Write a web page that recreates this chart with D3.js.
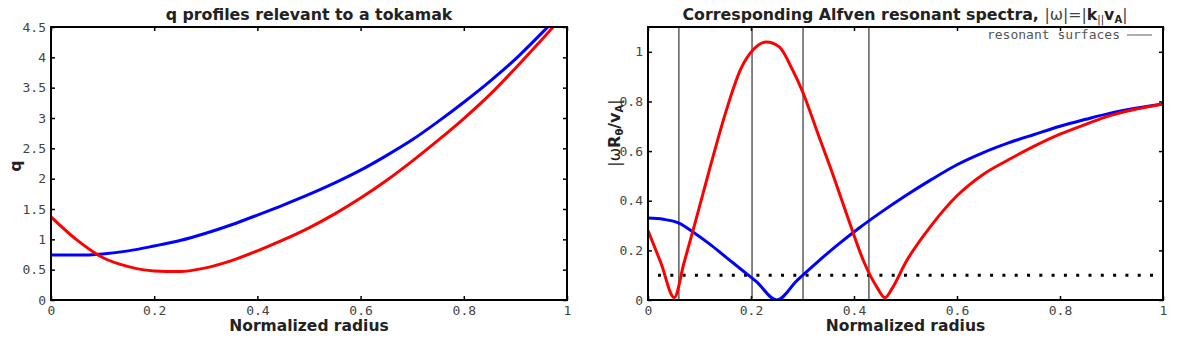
<!DOCTYPE html>
<html>
<head>
<meta charset="utf-8">
<script src="https://cdn.jsdelivr.net/npm/d3@7"></script>
<style>
  body { margin: 0; background: #fff; }
  svg { display: block; background: #fff; }
  .tick text { font-family: "DejaVu Sans Mono", monospace; font-size: 13px; fill: #444; }
  .tick line { stroke: #000; stroke-width: 1.5; }
  .title, .axis-label { font-family: "DejaVu Sans", sans-serif; font-weight: bold; fill: #222; }
  .legend { font-family: "DejaVu Sans Mono", monospace; font-size: 13px; fill: #555; }
</style>
</head>
<body>
<svg id="chart" width="1188" height="338"></svg>
<script>
var qRadius = [0, 0.05, 0.1, 0.15, 0.2, 0.25, 0.3, 0.35, 0.4, 0.45, 0.5,
               0.55, 0.6, 0.65, 0.7, 0.75, 0.8, 0.85, 0.9, 0.95, 1.0];
var qBlue = [0.74, 0.74, 0.76, 0.81, 0.89, 0.98, 1.10, 1.24, 1.40, 1.565, 1.74,
             1.93, 2.14, 2.38, 2.64, 2.94, 3.26, 3.60, 3.97, 4.39, 4.82];
var qRed = [1.37, 0.99, 0.70, 0.55, 0.48, 0.47, 0.53, 0.65, 0.81, 0.99, 1.19,
            1.42, 1.68, 1.97, 2.29, 2.63, 2.99, 3.38, 3.82, 4.28, 4.76];

// Alfven continuum |omega R0 / vA|
var blueSpecRadius = [0, 0.03, 0.06, 0.09, 0.12, 0.15, 0.18, 0.21, 0.25, 0.29, 0.33,
                      0.37, 0.41, 0.45, 0.5, 0.55, 0.6, 0.65, 0.7, 0.75, 0.8,
                      0.85, 0.9, 0.95, 1.0];
var blueSpec = [0.33, 0.325, 0.31, 0.27, 0.225, 0.175, 0.125, 0.075, 0.0, 0.08, 0.155,
                0.225, 0.29, 0.35, 0.42, 0.485, 0.545, 0.593, 0.633, 0.667, 0.70,
                0.728, 0.754, 0.774, 0.79];
var redSpecRadius = [0, 0.025, 0.051, 0.07, 0.09, 0.12, 0.15, 0.18, 0.205, 0.23, 0.255,
                     0.28, 0.30, 0.33, 0.36, 0.39, 0.42, 0.445, 0.46, 0.475, 0.5,
                     0.55, 0.6, 0.65, 0.7, 0.75, 0.8, 0.85, 0.9, 0.95, 1.0];
var redSpec = [0.28, 0.15, 0.01, 0.15, 0.30, 0.53, 0.75, 0.93, 1.01, 1.04, 1.02,
               0.93, 0.84, 0.67, 0.50, 0.32, 0.15, 0.05, 0.01, 0.05, 0.15,
               0.30, 0.42, 0.505, 0.565, 0.62, 0.668, 0.708, 0.745, 0.77, 0.79];

var resonantSurfaces = [0.06, 0.202, 0.301, 0.429];
var continuumLevel = 0.1;

var xTicks = [0, 0.2, 0.4, 0.6, 0.8, 1];
var qTicks = [0, 0.5, 1, 1.5, 2, 2.5, 3, 3.5, 4, 4.5];
var omegaTicks = [0, 0.2, 0.4, 0.6, 0.8, 1];

var svg = d3.select("#chart");
var fmt = d3.format("~g");

function drawPanel(id, left, right, yMax, yTicks) {
  var x = d3.scaleLinear().domain([0, 1]).range([left, right]);
  var y = d3.scaleLinear().domain([0, yMax]).range([300, 27]);
  var g = svg.append("g").attr("id", id);

  g.append("clipPath").attr("id", id + "-clip")
    .append("rect")
      .attr("x", left).attr("y", 27)
      .attr("width", right - left).attr("height", 273);

  // ticks on all four sides, pointing inwards
  g.append("g").attr("transform", "translate(0,300)")
      .call(d3.axisBottom(x).tickValues(xTicks).tickSize(-4).tickPadding(6).tickFormat(fmt))
      .call(function(a) { a.select(".domain").remove(); });
  g.append("g").attr("transform", "translate(0,27)")
      .call(d3.axisTop(x).tickValues(xTicks).tickSize(-4).tickFormat(""))
      .call(function(a) { a.select(".domain").remove(); });
  g.append("g").attr("transform", "translate(" + left + ",0)")
      .call(d3.axisLeft(y).tickValues(yTicks).tickSize(-4).tickPadding(5).tickFormat(fmt))
      .call(function(a) { a.select(".domain").remove(); });
  g.append("g").attr("transform", "translate(" + right + ",0)")
      .call(d3.axisRight(y).tickValues(yTicks).tickSize(-4).tickFormat(""))
      .call(function(a) { a.select(".domain").remove(); });

  var plot = g.append("g").attr("clip-path", "url(#" + id + "-clip)");

  g.append("rect")
    .attr("x", left).attr("y", 27)
    .attr("width", right - left).attr("height", 273)
    .attr("fill", "none").attr("stroke", "#000").attr("stroke-width", 2);

  g.append("text").attr("class", "axis-label")
    .attr("x", (left + right) / 2).attr("y", 331)
    .attr("text-anchor", "middle").style("font-size", "15.5px")
    .text("Normalized radius");

  return { g: g, plot: plot, x: x, y: y };
}

function drawCurve(panel, radius, values, color) {
  var line = d3.line()
    .x(function(d, i) { return panel.x(radius[i]); })
    .y(function(d) { return panel.y(d); })
    .curve(d3.curveMonotoneX);
  panel.plot.append("path")
    .datum(values)
    .attr("d", line)
    .attr("fill", "none")
    .attr("stroke", color)
    .attr("stroke-width", 3)
    .attr("stroke-linejoin", "round");
}

// left: q profiles
var qPanel = drawPanel("qpanel", 51, 567, 4.5, qTicks);
drawCurve(qPanel, qRadius, qBlue, "#0000ff");
drawCurve(qPanel, qRadius, qRed, "#ff0000");

svg.append("text").attr("class", "title")
  .attr("x", 309).attr("y", 20)
  .attr("text-anchor", "middle").style("font-size", "15.8px")
  .text("q profiles relevant to a tokamak");

svg.append("text").attr("class", "axis-label")
  .attr("transform", "translate(21,166) rotate(-90)")
  .attr("text-anchor", "middle").style("font-size", "16px")
  .text("q");

// right: Alfven spectra
var wPanel = drawPanel("wpanel", 648, 1163, 1.1, omegaTicks);

wPanel.plot.selectAll(".surface")
  .data(resonantSurfaces)
  .enter().append("line")
    .attr("class", "surface")
    .attr("x1", function(d) { return wPanel.x(d); })
    .attr("x2", function(d) { return wPanel.x(d); })
    .attr("y1", wPanel.y(0)).attr("y2", wPanel.y(1.1))
    .attr("stroke", "#222").attr("stroke-width", 1.1);

wPanel.plot.append("line")
  .attr("x1", wPanel.x(0)).attr("x2", wPanel.x(1))
  .attr("y1", wPanel.y(continuumLevel)).attr("y2", wPanel.y(continuumLevel))
  .attr("stroke", "#000").attr("stroke-width", 3)
  .attr("stroke-dasharray", "3,9.3").attr("stroke-dashoffset", 2.3);

drawCurve(wPanel, blueSpecRadius, blueSpec, "#0000ff");
drawCurve(wPanel, redSpecRadius, redSpec, "#ff0000");

// legend
svg.append("text").attr("class", "legend")
  .attr("x", 1120).attr("y", 39).attr("text-anchor", "end")
  .text("resonant surfaces");
svg.append("line")
  .attr("x1", 1127).attr("x2", 1152).attr("y1", 35).attr("y2", 35)
  .attr("stroke", "#777").attr("stroke-width", 1.2);

// right title with the dispersion relation
var t2 = svg.append("text").attr("class", "title")
  .attr("x", 905).attr("y", 20)
  .attr("text-anchor", "middle").style("font-size", "15.8px");
t2.append("tspan").text("Corresponding Alfven resonant spectra, ");
t2.append("tspan").style("font-weight", "normal").style("fill", "#444").text("|\u03c9|=|");
t2.append("tspan").text("k");
t2.append("tspan").style("font-weight", "normal").style("font-size", "10px").attr("dy", 3).text("||");
t2.append("tspan").attr("dy", -3).text("v");
t2.append("tspan").style("font-size", "10px").attr("dy", 3).text("A");
t2.append("tspan").style("font-weight", "normal").style("fill", "#444").attr("dy", -3).text("|");

// rotated y label |omega R_theta / v_A|
var yl = svg.append("text").attr("class", "axis-label")
  .attr("transform", "translate(620,133) rotate(-90)")
  .attr("text-anchor", "middle").style("font-size", "16px");
yl.append("tspan").style("font-weight", "normal").text("|\u03c9");
yl.append("tspan").text("R");
yl.append("tspan").style("font-size", "10px").attr("dy", 3).text("\u03b8");
yl.append("tspan").attr("dy", -3).text("/v");
yl.append("tspan").style("font-size", "10px").attr("dy", 3).text("A");
yl.append("tspan").style("font-weight", "normal").attr("dy", -3).text("|");
</script>
</body>
</html>
